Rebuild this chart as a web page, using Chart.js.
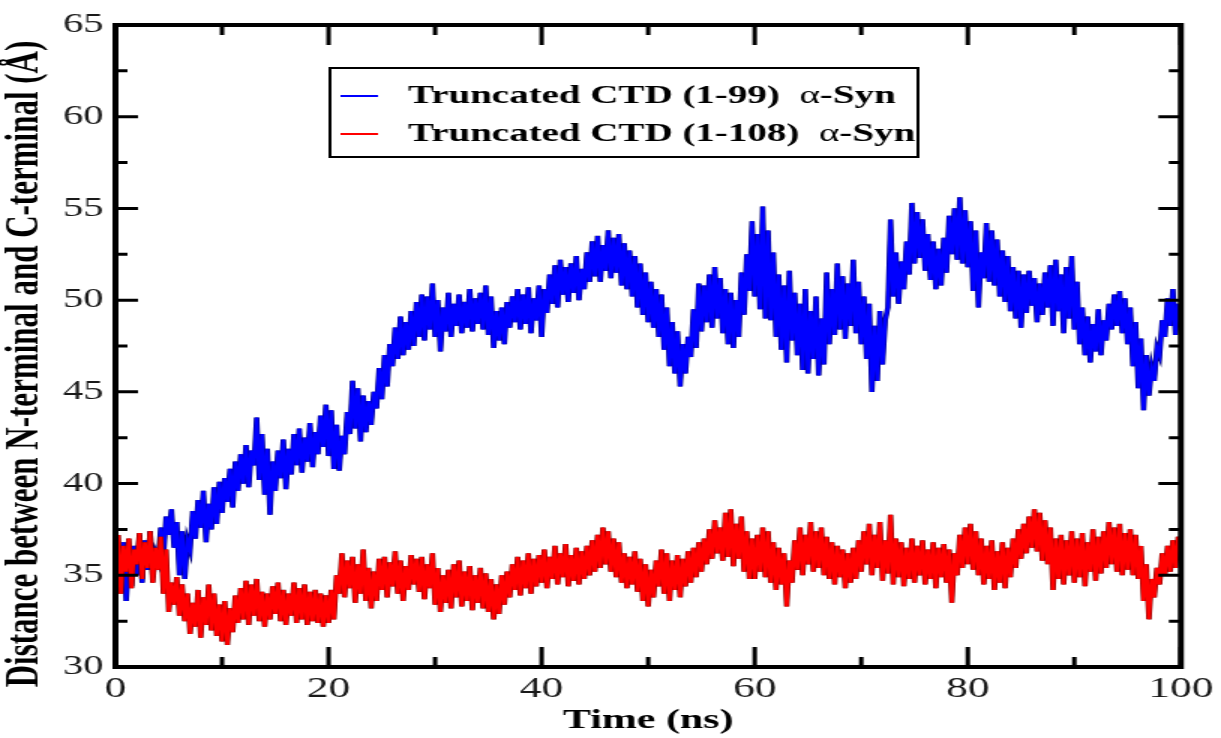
<!DOCTYPE html>
<html>
<head>
<meta charset="utf-8">
<script src="https://cdn.jsdelivr.net/npm/chart.js@4.4.1/dist/chart.umd.min.js"></script>
<style>
  html, body { margin: 0; padding: 0; background: #fff; overflow: hidden; }
  /* drawn narrow, shown wide: the figure is stretched sideways */
  #plot { display: block; width: 1221px !important; height: 738px !important; }
</style>
</head>
<body>
<canvas id="plot" width="814" height="738"></canvas>
<script>
// sampling interval of both trajectories (ns)
const stepNs = 0.25;

// Truncated CTD (1-99): one row per 5 ns
const dist99 = [
  35.2, 36.4, 34.1, 36.8, 33.6, 35.9, 34.4, 36.6, 35.0, 37.2, 34.6, 36.9, 35.3, 37.4, 34.9, 36.2, 35.8, 37.6, 36.0, 38.2,
  37.2, 38.6, 36.5, 37.9, 35.0, 37.4, 34.8, 36.9, 36.4, 38.5, 37.0, 39.1, 37.6, 39.6, 36.8, 38.9, 37.5, 39.8, 37.8, 40.1,
  38.4, 40.3, 39.0, 40.8, 38.7, 41.2, 39.6, 41.6, 40.0, 42.1, 39.8, 41.8, 41.0, 43.6, 40.2, 42.7, 39.4, 41.9, 38.3, 41.2,
  39.6, 41.8, 40.3, 42.4, 39.7, 41.9, 40.5, 42.7, 41.0, 43.0, 40.6, 42.5, 41.2, 43.3, 40.9, 42.8, 41.6, 43.7, 42.0, 44.3,
  41.5, 44.0, 40.8, 43.2, 40.7, 42.6, 41.6, 43.9, 42.7, 45.6, 43.0, 45.2, 42.3, 44.8, 42.8, 44.5, 43.2, 45.0, 44.1, 46.3,
  44.6, 47.0, 45.3, 47.6, 46.4, 48.5, 46.8, 49.1, 47.0, 48.8, 47.3, 49.4, 47.5, 49.9, 48.0, 50.3, 47.8, 50.2, 48.4, 50.9,
  48.0, 50.0, 47.2, 49.6, 48.3, 50.4, 48.0, 49.8, 48.6, 50.3, 48.2, 49.9, 48.5, 50.6, 48.3, 50.1, 48.7, 50.4, 48.4, 50.8,
  48.1, 50.2, 47.4, 49.4, 47.8, 49.6, 47.6, 49.9, 48.5, 50.2, 48.8, 50.6, 48.4, 50.3, 48.7, 50.7, 48.2, 50.1, 48.9, 50.8,
  48.0, 50.6, 49.3, 51.4, 49.8, 51.9, 49.6, 52.2, 50.3, 51.8, 49.9, 52.0, 50.4, 52.4, 50.0, 51.7, 50.6, 52.6, 51.0, 53.2,
  51.3, 53.5, 51.0, 53.0, 51.6, 53.8, 51.2, 53.4, 51.5, 53.6, 50.8, 53.1, 50.6, 52.7, 50.2, 52.4, 49.6, 52.0, 49.2, 51.5,
  48.8, 51.0, 48.5, 50.6, 48.0, 50.3, 47.3, 49.6, 46.4, 48.8, 46.0, 48.3, 45.3, 47.6, 46.0, 48.0, 46.9, 49.5, 47.4, 50.9,
  48.3, 50.8, 48.8, 51.4, 48.5, 51.8, 49.0, 51.2, 48.2, 50.6, 47.6, 50.4, 47.4, 50.0, 48.0, 51.5, 49.2, 52.5, 50.5, 54.3,
  50.2, 53.6, 49.5, 55.1, 49.0, 53.8, 48.9, 52.6, 48.0, 51.4, 47.3, 50.8, 46.6, 51.6, 47.8, 50.4, 47.0, 49.8, 46.2, 50.6,
  46.0, 49.4, 46.8, 50.2, 45.9, 49.0, 46.5, 51.5, 47.6, 50.6, 48.1, 52.0, 48.4, 51.3, 47.9, 50.9, 48.6, 52.2, 48.2, 51.0,
  47.6, 50.2, 46.8, 49.8, 45.0, 48.6, 45.6, 49.4, 46.5, 48.9, 49.6, 54.4, 50.2, 52.6, 49.8, 52.1, 50.6, 53.2, 51.4, 55.3,
  52.0, 54.8, 52.3, 54.4, 51.6, 53.6, 51.1, 53.2, 50.6, 52.8, 50.8, 53.4, 51.5, 54.6, 52.5, 55.0, 52.2, 55.6, 52.0, 54.9,
  51.8, 54.3, 50.5, 53.8, 49.6, 52.6, 51.2, 54.2, 51.0, 53.8, 50.8, 53.3, 50.2, 52.7, 49.9, 52.4, 49.4, 51.8, 49.0, 51.6,
  48.5, 51.4, 49.3, 51.6, 49.7, 51.2, 48.8, 50.9, 49.2, 51.5, 49.6, 51.9, 48.6, 52.2, 49.4, 51.4, 48.2, 51.8, 49.0, 52.4,
  48.4, 51.0, 47.6, 49.6, 47.0, 49.1, 46.6, 48.7, 47.2, 49.5, 47.0, 48.9, 47.8, 49.8, 48.4, 50.3, 48.6, 50.5, 48.2, 50.1,
  47.6, 49.6, 46.4, 48.8, 45.2, 47.9, 44.0, 47.0, 44.8, 46.3, 45.6, 47.4, 47.0, 48.9, 48.0, 50.1, 48.6, 50.6, 48.1, 49.8,
  48.8
];

// Truncated CTD (1-108)
const dist108 = [
  34.5, 37.2, 34.0, 36.6, 35.2, 37.0, 34.3, 36.4, 35.6, 37.3, 34.8, 36.8, 35.4, 37.4, 34.6, 36.5, 35.3, 37.1, 34.0, 36.4,
  33.0, 34.6, 33.4, 34.9, 32.8, 34.5, 32.5, 34.0, 31.8, 33.5, 32.2, 34.2, 31.6, 33.8, 32.3, 34.5, 32.0, 34.0, 31.7, 33.4,
  31.4, 33.6, 31.2, 33.2, 31.9, 33.9, 32.4, 34.3, 32.6, 34.7, 32.3, 34.5, 32.8, 34.8, 32.5, 34.1, 32.2, 34.0, 32.6, 34.4,
  32.9, 34.6, 32.5, 34.2, 32.3, 34.0, 32.8, 34.6, 32.4, 34.3, 32.6, 34.5, 32.3, 34.1, 32.5, 34.2, 32.4, 34.0, 32.2, 33.9,
  32.4, 34.2, 32.6, 35.0, 34.0, 36.2, 33.8, 35.8, 34.3, 36.0, 33.5, 35.6, 34.0, 36.4, 33.6, 35.4, 33.2, 35.2, 33.6, 35.9,
  34.2, 36.0, 33.8, 35.7, 34.4, 36.3, 34.0, 35.8, 33.6, 35.5, 34.2, 36.1, 34.5, 35.9, 34.1, 36.0, 33.7, 35.6, 34.3, 36.2,
  33.4, 35.4, 33.0, 35.0, 33.5, 35.3, 33.2, 35.6, 33.8, 35.8, 33.3, 35.2, 33.6, 35.5, 33.1, 35.0, 33.5, 35.4, 33.2, 35.1,
  33.0, 34.8, 32.6, 34.5, 32.9, 35.0, 33.4, 35.2, 33.8, 35.6, 34.2, 36.0, 33.9, 35.8, 34.3, 36.2, 34.0, 35.9, 34.4, 36.1,
  34.6, 36.4, 34.3, 36.0, 34.8, 36.6, 34.5, 36.2, 34.9, 36.7, 34.4, 36.1, 34.7, 36.5, 34.5, 36.3, 34.8, 36.6, 35.0, 36.9,
  35.2, 37.2, 35.4, 37.6, 35.6, 37.4, 35.2, 37.0, 34.9, 36.8, 34.6, 36.2, 34.3, 36.0, 34.5, 36.3, 34.1, 35.9, 33.6, 35.6,
  33.3, 35.3, 33.8, 35.8, 34.4, 36.4, 34.0, 36.2, 33.6, 35.8, 34.2, 36.1, 33.8, 35.9, 34.4, 36.3, 34.6, 36.5, 34.9, 36.8,
  35.2, 37.0, 35.6, 37.5, 35.9, 38.0, 36.2, 37.6, 35.8, 38.4, 36.0, 38.6, 35.5, 37.8, 35.9, 38.2, 35.2, 37.4, 34.8, 37.0,
  34.8, 37.2, 35.2, 37.6, 34.9, 37.4, 34.6, 36.8, 34.2, 36.5, 34.5, 36.2, 33.3, 35.8, 34.6, 36.9, 35.3, 37.6, 35.0, 37.2,
  35.6, 37.9, 35.2, 37.4, 35.4, 37.6, 35.0, 37.1, 34.8, 36.8, 34.5, 36.6, 34.9, 36.4, 34.3, 36.2, 34.6, 36.5, 34.8, 36.9,
  35.2, 37.4, 35.6, 37.8, 35.0, 37.2, 35.4, 37.9, 34.7, 36.9, 35.1, 38.3, 34.5, 37.0, 34.9, 36.8, 34.4, 36.5, 34.8, 37.0,
  34.6, 36.6, 35.0, 36.9, 34.5, 36.4, 34.8, 36.8, 34.3, 36.5, 34.9, 36.7, 34.6, 36.4, 33.5, 36.2, 35.0, 37.2, 35.4, 37.6,
  35.6, 37.8, 35.3, 37.4, 35.0, 37.0, 34.5, 36.6, 34.8, 36.9, 34.2, 36.3, 34.6, 36.8, 34.3, 36.5, 34.9, 37.0, 35.4, 37.5,
  35.9, 37.8, 36.2, 38.2, 36.5, 38.6, 36.3, 38.4, 35.8, 38.0, 35.6, 37.6, 34.2, 37.0, 34.8, 37.2, 34.5, 36.9, 35.0, 37.4,
  34.6, 37.0, 34.9, 37.3, 34.4, 36.8, 35.2, 37.5, 34.7, 37.1, 35.1, 37.4, 35.4, 37.9, 35.6, 37.6, 35.2, 37.8, 35.0, 37.3,
  35.3, 37.5, 35.0, 37.2, 34.8, 36.6, 33.6, 35.6, 32.6, 34.8, 33.8, 35.4, 34.5, 36.2, 35.0, 36.6, 35.2, 36.9, 35.4, 37.1,
  36.4
];

const xMajor = [0, 20, 40, 60, 80, 100];
const xMinor = [10, 30, 50, 70, 90];
const yMajor = [30, 35, 40, 45, 50, 55, 60, 65];
const yMinor = [32.5, 37.5, 42.5, 47.5, 52.5, 57.5, 62.5];

const yTitle = 'Distance between N-terminal and C-terminal (Å)';

const legendItems = [
  { head: 'Truncated CTD (1-99)  ', color: '#0000ff' },
  { head: 'Truncated CTD (1-108)  ', color: '#ff0000' }
];

const toPoints = arr => arr.map((v, i) => ({ x: i * stepNs, y: v }));

// each trace gets a thin dark rim drawn underneath it
const trace = (label, arr, color, rim, order) => ([
  { label: label + ' rim', data: toPoints(arr), borderColor: rim, borderWidth: 3.6, pointRadius: 0, order: order + 1 },
  { label, data: toPoints(arr), borderColor: color, borderWidth: 2.6, pointRadius: 0, order }
]);

// xmgrace-style frame with inward ticks on all four sides
const frameTicks = {
  id: 'frameTicks',
  afterDatasetsDraw(chart) {
    const { ctx, chartArea: a, scales: { x, y } } = chart;
    ctx.save();
    ctx.strokeStyle = '#000';
    ctx.lineWidth = 3;
    ctx.beginPath();
    const xt = (v, len) => {
      const px = x.getPixelForValue(v);
      ctx.moveTo(px, a.bottom); ctx.lineTo(px, a.bottom - len);
      ctx.moveTo(px, a.top); ctx.lineTo(px, a.top + len);
    };
    const yt = (v, len) => {
      const py = y.getPixelForValue(v);
      ctx.moveTo(a.left, py); ctx.lineTo(a.left + len, py);
      ctx.moveTo(a.right, py); ctx.lineTo(a.right - len, py);
    };
    xMajor.forEach(v => xt(v, 20));
    xMinor.forEach(v => xt(v, 10));
    yMajor.forEach(v => yt(v, 15));
    yMinor.forEach(v => yt(v, 8));
    ctx.stroke();
    ctx.lineWidth = 4;
    ctx.strokeRect(a.left, a.top, a.right - a.left, a.bottom - a.top);
    ctx.restore();
  },
  afterDraw(chart) {
    const { ctx } = chart;

    // rotated y-axis title, sitting a little below the plot's centre
    ctx.save();
    ctx.translate(17, 364);
    ctx.rotate(-Math.PI / 2);
    ctx.font = 'bold 31px "Liberation Serif"';
    ctx.fillStyle = '#000';
    ctx.textAlign = 'center';
    ctx.textBaseline = 'middle';
    ctx.fillText(yTitle, 0, 0);
    ctx.restore();

    const box = { left: 220, top: 68, width: 392, height: 89 };
    ctx.save();
    ctx.fillStyle = '#fff';
    ctx.fillRect(box.left, box.top, box.width, box.height);
    ctx.strokeStyle = '#000';
    ctx.lineWidth = 2;
    ctx.strokeRect(box.left, box.top, box.width, box.height);
    ctx.textBaseline = 'middle';
    legendItems.forEach((item, i) => {
      const cy = 96 + i * 38;
      ctx.strokeStyle = item.color;
      ctx.lineWidth = 2;
      ctx.beginPath();
      ctx.moveTo(227, cy); ctx.lineTo(252, cy);
      ctx.stroke();
      ctx.fillStyle = '#000';
      let tx = 272;
      ctx.font = 'bold 26px "Liberation Serif"';
      ctx.fillText(item.head, tx, cy);
      tx += ctx.measureText(item.head).width;
      ctx.font = '26px "Liberation Serif"';
      ctx.fillText('α', tx, cy);
      tx += ctx.measureText('α').width;
      ctx.font = 'bold 26px "Liberation Serif"';
      ctx.fillText('-Syn', tx, cy);
    });
    ctx.restore();
  }
};

new Chart(document.getElementById('plot'), {
  type: 'line',
  data: {
    datasets: [
      ...trace('Truncated CTD (1-99)  α-Syn', dist99, '#0000ff', '#000070', 2),
      ...trace('Truncated CTD (1-108)  α-Syn', dist108, '#ff0000', '#700000', 0)
    ]
  },
  options: {
    responsive: false,
    animation: false,
    layout: { padding: { top: 25, right: 22, bottom: 0, left: 0 } },
    plugins: {
      legend: { display: false },
      tooltip: { enabled: false }
    },
    scales: {
      x: {
        type: 'linear',
        min: 0,
        max: 100,
        afterBuildTicks: s => { s.ticks = xMajor.map(v => ({ value: v })); },
        afterFit: s => { s.height = 71; },
        grid: { display: false, drawTicks: false },
        border: { display: false },
        ticks: {
          padding: 5,
          color: '#1a1a1a',
          font: { family: 'Liberation Serif', size: 29 }
        },
        title: {
          display: true,
          text: 'Time (ns)',
          color: '#000',
          padding: { top: 0, bottom: 0 },
          font: { family: 'Liberation Serif', size: 28, weight: 'bold' }
        }
      },
      y: {
        min: 30,
        max: 65,
        afterBuildTicks: s => { s.ticks = yMajor.map(v => ({ value: v })); },
        afterFit: s => { s.width = 77; },
        grid: { display: false, drawTicks: false },
        border: { display: false },
        ticks: {
          padding: 8,
          color: '#1a1a1a',
          font: { family: 'Liberation Serif', size: 27 }
        }
      }
    }
  },
  plugins: [frameTicks]
});
</script>
</body>
</html>
